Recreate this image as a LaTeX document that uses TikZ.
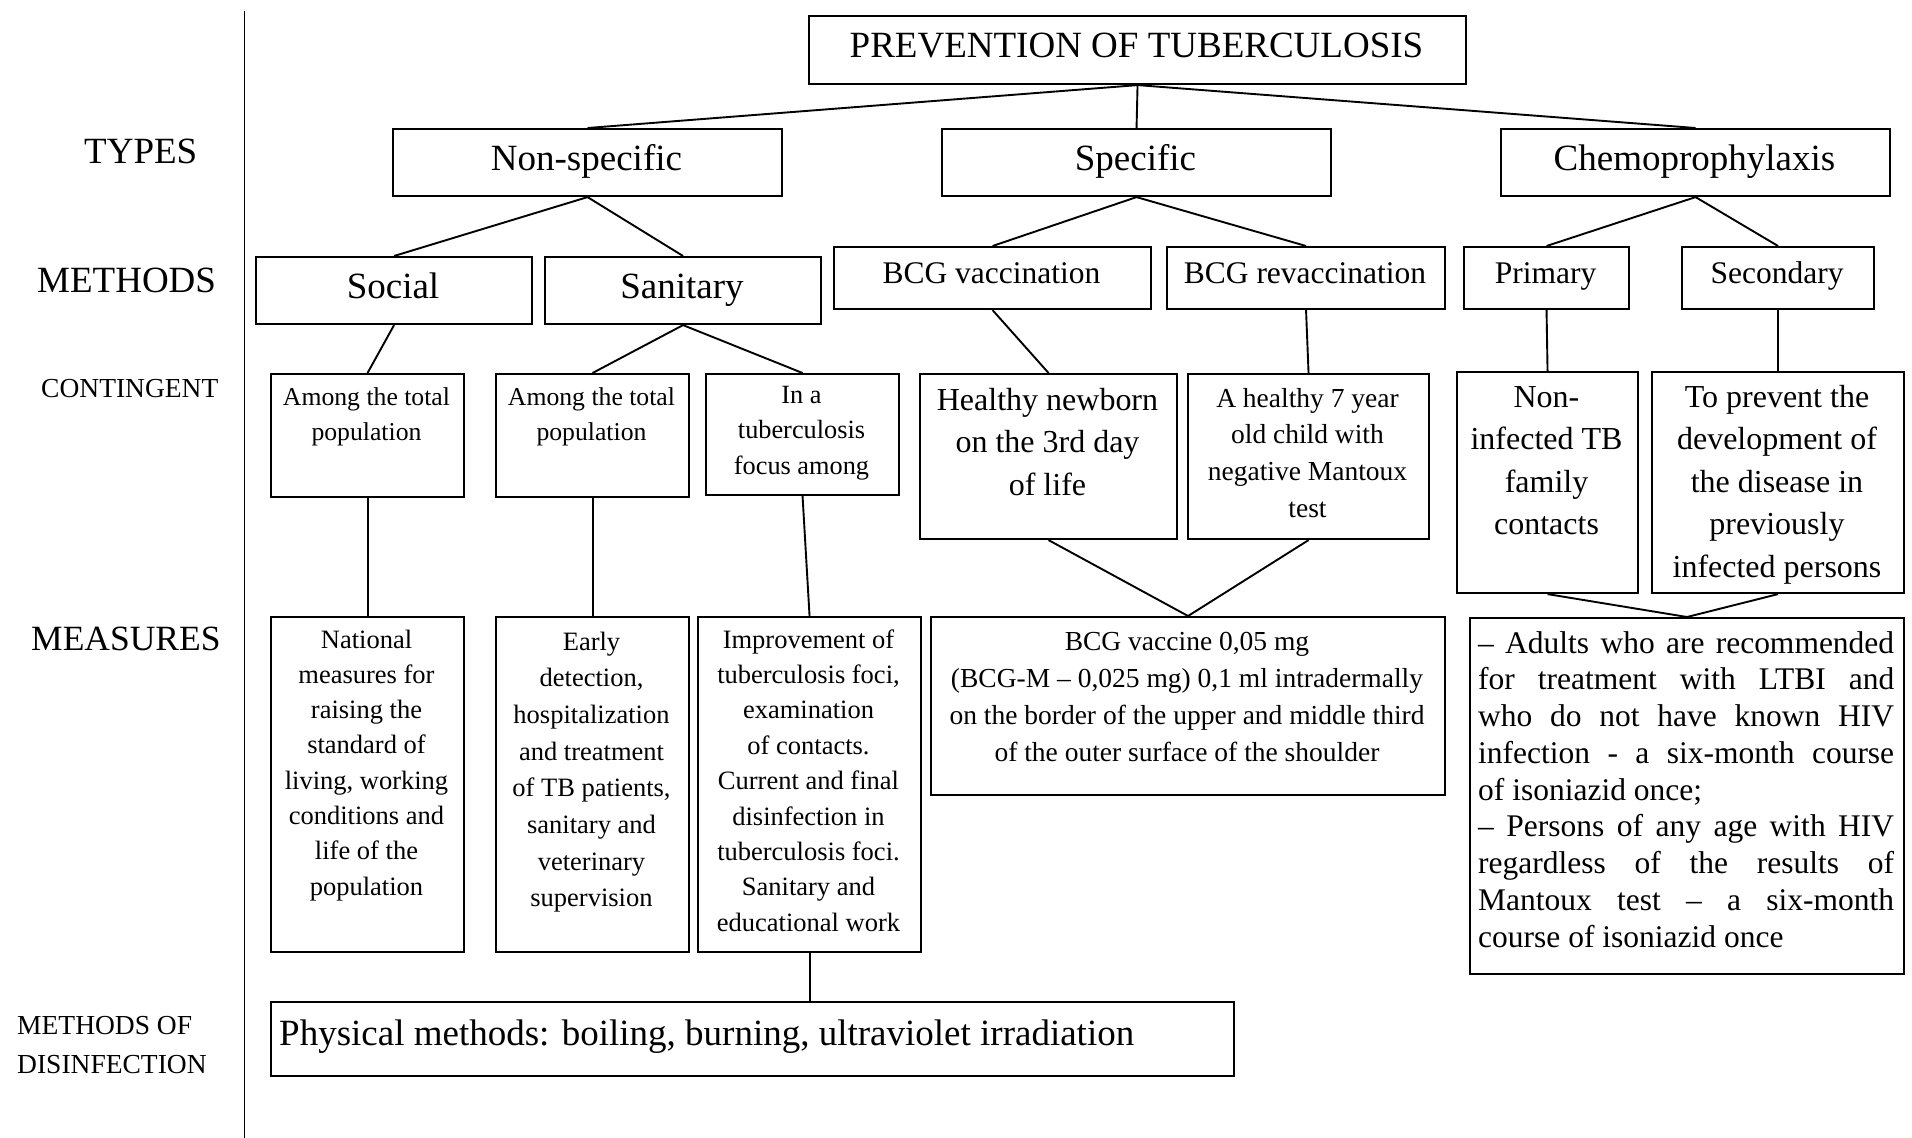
\documentclass[tikz,border=0pt]{standalone}
\usepackage{fontspec}
\setmainfont{Liberation Serif}
% centred stack of lines: width, font size, line distance, text
\newcommand{\stacktext}[4]{\parbox[t]{#1}{\centering\fontsize{#2}{#3}\selectfont #4}}

\begin{document}
\begin{tikzpicture}[x=1pt,y=-1pt,
  bx/.style 2 args={draw, line width=2.1pt, inner sep=0pt, anchor=north west,
                    minimum width=#1, minimum height=#2},
  lnk/.style={line width=1.9pt},
  txt/.style={inner sep=0pt, anchor=base},
  lbl/.style={inner sep=0pt, anchor=base west},
  big/.style={font=\fontsize{37}{44}\selectfont},
  mid/.style={font=\fontsize{31.5}{38}\selectfont},
  small/.style={font=\fontsize{27.5}{33}\selectfont},
]
\useasboundingbox (0,0) rectangle (1912,1138);

% row captions and divider
\draw[line width=1.9pt] (244.5,11) coordinate (divtop) -- (244.5,1138) coordinate (divbot);
\node[lbl,big] (lt) at (84,163) {TYPES};
\node[lbl,big] (lm) at (37,292) {METHODS};
\node[lbl,small] (lc) at (41,397) {CONTINGENT};
\node[lbl,font=\fontsize{35.5}{42}\selectfont] (lme) at (31,650) {MEASURES};
\node[lbl,small] (ld1) at (17,1034) {METHODS OF};
\node[lbl,small] (ld2) at (17,1073) {DISINFECTION};

% boxes
\node[bx={657pt}{68pt}] (title) at (808,15) {};
\node[bx={389pt}{67pt}] (nonspec) at (392,128) {};
\node[bx={389pt}{67pt}] (spec) at (941,128) {};
\node[bx={389pt}{67pt}] (chemo) at (1500,128) {};
\node[bx={276pt}{67pt}] (social) at (255,256) {};
\node[bx={276pt}{67pt}] (sanit) at (544,256) {};
\node[bx={317pt}{62pt}] (bcgv) at (833,246) {};
\node[bx={278pt}{62pt}] (bcgr) at (1166,246) {};
\node[bx={165pt}{62pt}] (prim) at (1463,246) {};
\node[bx={192pt}{62pt}] (sec) at (1681,246) {};
\node[bx={193pt}{123pt}] (c1) at (270,373) {};
\node[bx={193pt}{123pt}] (c2) at (495,373) {};
\node[bx={193pt}{121pt}] (c3) at (705,373) {};
\node[bx={257pt}{165pt}] (c4) at (919,373) {};
\node[bx={241pt}{165pt}] (c5) at (1187,373) {};
\node[bx={181pt}{221pt}] (c6) at (1456,371) {};
\node[bx={252pt}{221pt}] (c7) at (1651,371) {};
\node[bx={193pt}{335pt}] (m1) at (270,616) {};
\node[bx={193pt}{335pt}] (m2) at (495,616) {};
\node[bx={223pt}{335pt}] (m3) at (697,616) {};
\node[bx={514pt}{178pt}] (m4) at (930,616) {};
\node[bx={434pt}{356pt}] (m5) at (1469,617) {};
\node[bx={963pt}{74pt}] (phys) at (270,1001) {};

% connectors
\draw[lnk] (title.south) -- (nonspec.north);
\draw[lnk] (title.south) -- (spec.north);
\draw[lnk] (title.south) -- (chemo.north);
\draw[lnk] (nonspec.south) -- (social.north);
\draw[lnk] (nonspec.south) -- (sanit.north);
\draw[lnk] (spec.south) -- (bcgv.north);
\draw[lnk] (spec.south) -- (bcgr.north);
\draw[lnk] (chemo.south) -- (prim.north);
\draw[lnk] (chemo.south) -- (sec.north);
\draw[lnk] (social.south) -- (c1.north);
\draw[lnk] (sanit.south) -- (c2.north);
\draw[lnk] (sanit.south) -- (c3.north);
\draw[lnk] (bcgv.south) -- (c4.north);
\draw[lnk] (bcgr.south) -- (c5.north);
\draw[lnk] (prim.south) -- (c6.north);
\draw[lnk] (sec.south) -- (c7.north);
\draw[lnk] (c1.south) -- (m1.north);
\draw[lnk] (c2.south) -- (m2.north);
\draw[lnk] (c3.south) -- (m3.north);
\draw[lnk] (c4.south) -- (m4.north);
\draw[lnk] (c5.south) -- (m4.north);
\draw[lnk] (c6.south) -- (m5.north);
\draw[lnk] (c7.south) -- (m5.north);
\draw[lnk] (m3.south) -- (m3.south |- phys.north);

% single-line texts
\node[txt,big] (t0) at (1136.5,57) {PREVENTION OF TUBERCULOSIS};
\node[txt,big] (t1) at (586.5,170) {Non-specific};
\node[txt,big] (t2) at (1135.5,170) {Specific};
\node[txt,big] (t3) at (1694.5,170) {Chemoprophylaxis};
\node[txt,big] (t4) at (393,298) {Social};
\node[txt,big] (t5) at (682,298) {Sanitary};
\node[txt,mid] (t6) at (991.5,283) {BCG vaccination};
\node[txt,mid] (t7) at (1305,283) {BCG revaccination};
\node[txt,mid] (t8) at (1545.5,283) {Primary};
\node[txt,mid] (t9) at (1777,283) {Secondary};
\node[inner sep=0pt, anchor=base west, big] (tp) at (279,1045)
  {Physical methods: boiling, burning, ultraviolet irradiation};

% contingent texts
\node[txt] (tc1) at (366.5,405) {\stacktext{193pt}{25.7}{35}{Among the total\\population}};
\node[txt] (tc2) at (591.5,405) {\stacktext{193pt}{25.7}{35}{Among the total\\population}};
\node[txt] (tc3) at (801.5,403) {\stacktext{193pt}{26.3}{35.5}{In a\\tuberculosis\\focus among}};
\node[txt] (tc4) at (1047.5,410) {\stacktext{257pt}{32}{42.5}{Healthy newborn\\on the 3rd day\\of life}};
\node[txt] (tc5) at (1307.5,407) {\stacktext{241pt}{27.5}{36.7}{A healthy 7 year\\old child with\\negative Mantoux\\test}};
\node[txt] (tc6) at (1546.5,407) {\stacktext{181pt}{32}{42.6}{Non-\\infected TB\\family\\contacts}};
\node[txt] (tc7) at (1777,407) {\stacktext{252pt}{32}{42.5}{To prevent the\\development of\\the disease in\\previously\\infected persons}};

% measures texts
\node[txt] (tm1) at (366.5,648) {\stacktext{193pt}{26.5}{35.3}{National\\measures for\\raising the\\standard of\\living, working\\conditions and\\life of the\\population}};
\node[txt] (tm2) at (591.5,650) {\stacktext{193pt}{26.5}{36.7}{Early\\detection,\\hospitalization\\and treatment\\of TB patients,\\sanitary and\\veterinary\\supervision}};
\node[txt] (tm3) at (808.5,648) {\stacktext{223pt}{26.5}{35.4}{Improvement of\\tuberculosis foci,\\examination\\of contacts.\\Current and final\\disinfection in\\tuberculosis foci.\\Sanitary and\\educational work}};
\node[txt] (tm4) at (1187,650) {\stacktext{514pt}{27.5}{37}{BCG vaccine 0,05 mg\\(BCG-M -- 0,025 mg) 0,1 ml intradermally\\on the border of the upper and middle third\\of the outer surface of the shoulder}};
\node[inner sep=0pt, anchor=base west] (tm5) at (1478,653) {\parbox[t]{416pt}{%
  \fontsize{31.5}{36.75}\selectfont\hyphenpenalty=10000\exhyphenpenalty=10000\tolerance=10000
  -- Adults who are recommended\linebreak
  for treatment with LTBI and\linebreak
  who do not have known HIV\linebreak
  infection - a six-month course\linebreak
  of isoniazid once;\newline
  -- Persons of any age with HIV\linebreak
  regardless of the results of\linebreak
  Mantoux test -- a six-month\linebreak
  course of isoniazid once}};
\end{tikzpicture}
\end{document}
